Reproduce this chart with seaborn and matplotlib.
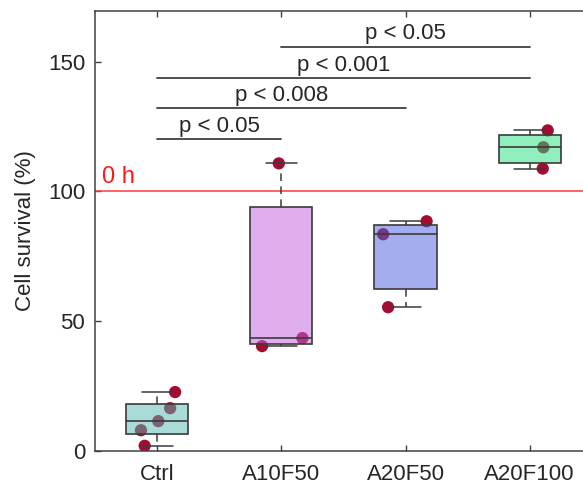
import numpy as np
import pandas as pd
import matplotlib
matplotlib.use("Agg")
import matplotlib.pyplot as plt
import matplotlib.colors as mcolors
import seaborn as sns

# data
groups  = ["Ctrl", "A10F50", "A20F50", "A20F100"]
ctrl    = [22.7, 16.5, 11.5, 8.0, 2.0]
a10f50  = [110.8, 43.5, 40.4]
a20f50  = [88.5, 83.5, 55.4]
a20f100 = [123.5, 117.0, 108.8]
# horizontal spread of the dots (category units)
jitter = [[0.145, 0.105, 0.01, -0.13, -0.10],
          [-0.02, 0.17, -0.155],
          [0.17, -0.18, -0.14],
          [0.145, 0.11, 0.105]]
box_colors = ["#55b9b5", "#c35fe1", "#4b5fe1", "#23e17d"]

sig_pairs  = [(0, 1), (0, 2), (0, 3), (1, 3)]
sig_labels = ["p < 0.05", "p < 0.008", "p < 0.001", "p < 0.05"]
sig_levels = [120, 132, 143.5, 155.8]
baseline = 100   # "0 h" reference

all_vals = [ctrl, a10f50, a20f50, a20f100]

rows = []
for i, (g, vals) in enumerate(zip(groups, all_vals)):
    for v, j in zip(vals, jitter[i]):
        rows.append({"group": g, "value": v, "x": i + j})
df = pd.DataFrame(rows)

sns.set_theme(style="ticks")
plt.rcParams["font.family"] = ["Liberation Sans", "DejaVu Sans"]

fig = plt.figure(figsize=(5.83, 4.88), dpi=100)
ax = fig.add_axes([95 / 583, 37 / 488, 496.8 / 583, 440 / 488])

DARK = "#3a3a3a"

# reference line
ax.axhline(baseline, color="#ff3b3b", lw=1.1, zorder=1)
ax.text(-0.44, baseline + 1.2, "0 h", color="#ff1a1a", fontsize=17,
        ha="left", va="bottom")

# dots (drawn below the translucent boxes)
sns.scatterplot(data=df, x="x", y="value", color="#a50d30", s=78,
                edgecolor="none", linewidth=0, zorder=2, ax=ax, legend=False)

# box stats with MATLAB-style (hazen) quartiles
stats = []
for g, vals in zip(groups, all_vals):
    v = np.sort(np.asarray(vals, float))
    q1, med, q3 = np.percentile(v, [25, 50, 75], method="hazen")
    iqr = q3 - q1
    lo = v[v >= q1 - 1.5 * iqr].min()
    hi = v[v <= q3 + 1.5 * iqr].max()
    stats.append({"label": g, "med": med, "q1": q1, "q3": q3,
                  "whislo": lo, "whishi": hi, "fliers": []})

bp = ax.bxp(stats, positions=range(len(groups)), widths=0.5, capwidths=0.25,
            patch_artist=True, showfliers=False, zorder=3,
            boxprops=dict(edgecolor=DARK, linewidth=1.2),
            medianprops=dict(color=DARK, linewidth=1.2),
            whiskerprops=dict(color=DARK, linewidth=1.1, linestyle=(0, (5, 3.5))),
            capprops=dict(color=DARK, linewidth=1.1))
for patch, c in zip(bp["boxes"], box_colors):
    patch.set_facecolor(mcolors.to_rgba(c, 0.5))

# significance bars
for (a, b), lab, h in zip(sig_pairs, sig_labels, sig_levels):
    ax.plot([a, b], [h, h], color="#404040", lw=1.3, zorder=4)
    ax.text((a + b) / 2, h + 1.0, lab, ha="center", va="bottom",
            fontsize=16, color="#262626")

ax.set_xlim(-0.5, 3.5)
ax.set_ylim(0, 169.5)
ax.set_xticks(range(len(groups)))
ax.set_xticklabels(groups)
ax.set_yticks([0, 50, 100, 150])
ax.set_xlabel("")
ax.set_ylabel("Cell survival (%)", fontsize=16, color="#262626", labelpad=9)

ax.tick_params(direction="in", length=4, width=1, top=True, right=True,
               colors="#404040", labelcolor="#262626", labelsize=16)
ax.tick_params(axis="x", pad=9)
ax.tick_params(axis="y", pad=7)
for sp in ax.spines.values():
    sp.set_visible(True)
    sp.set_color("#404040")
    sp.set_linewidth(1.1)

plt.savefig("out.png", dpi=100)
